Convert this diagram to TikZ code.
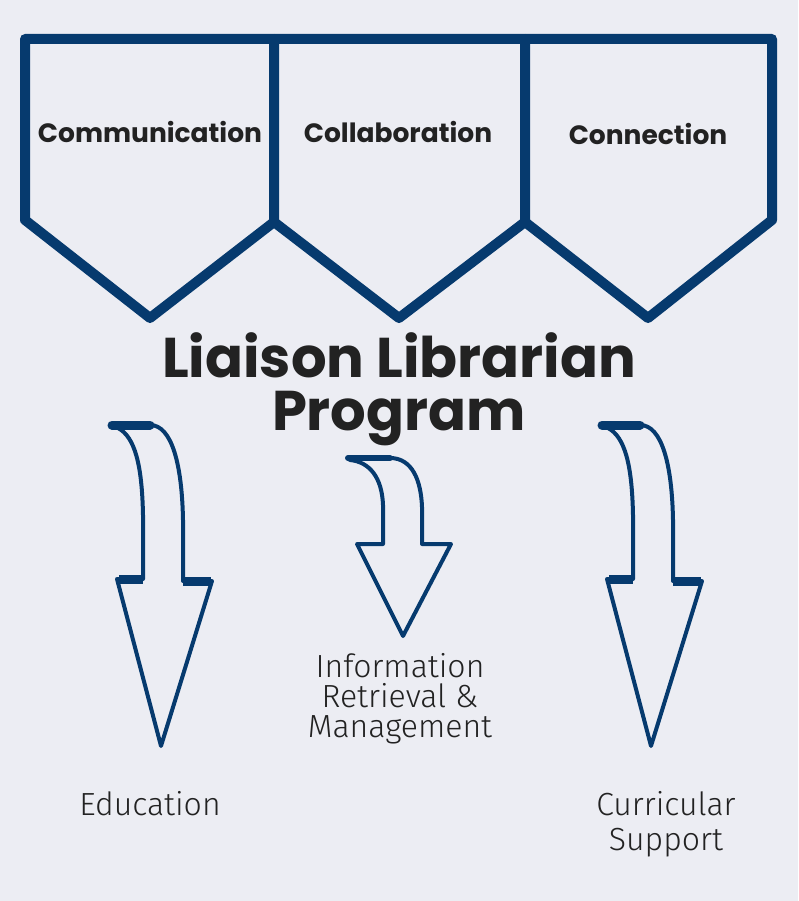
\documentclass[tikz,border=0pt]{standalone}
\usepackage{fontspec}
\setmainfont{Fira Sans Light}
\newfontfamily\headfont{Poppins}
\definecolor{navy}{HTML}{063A6E}
\definecolor{paper}{HTML}{ECEDF3}
\definecolor{ink}{HTML}{222222}
\begin{document}
\begin{tikzpicture}[x=1pt,y=-1pt,
    tab/.style={draw=navy,line width=10pt,line join=round},
    arrowline/.style={draw=navy,line width=4pt,line join=round},
    heavy/.style={draw=navy,line width=9pt,line cap=round},
    tabtext/.style={text=ink,anchor=base,font=\headfont\bfseries\fontsize{26.5}{30}\selectfont},
    title/.style={text=ink,align=center,anchor=base,font=\headfont\bfseries\fontsize{56}{53}\selectfont},
    label/.style={text=ink,align=center,anchor=base,font=\fontsize{32}{30}\selectfont}]
  \fill[paper] (0,0) rectangle (798,901);
  \useasboundingbox (0,0) rectangle (798,901);
  % the three tabs
  \draw[tab] (25,39) -- (274,39) -- (274,222) -- (150,318) -- (25,220) -- cycle;
  \draw[tab] (274,39) -- (525,39) -- (525,222) -- (399,318) -- (274,222);
  \draw[tab] (525,39) -- (772,39) -- (772,220) -- (648,318) -- (525,222);
  \node[tabtext] (comm) at (150,143) {Communication};
  \node[tabtext] (coll) at (398,143) {Collaboration};
  \node[tabtext] (conn) at (648,145) {Connection};
  % program title (base = last line)
  \node[title] (prog) at (399,430) {Liaison Librarian\\Program};
  % left and right arrows
  \foreach \dx in {0,490} {
    \begin{scope}[xshift=\dx]
      \draw[arrowline] (112,425) -- (150,425) .. controls (172,425) and (182,465) .. (183,520)
        -- (183,581) -- (212,581) -- (161,746) -- (117,579) -- (143,579) -- (143,515)
        .. controls (142,465) and (135,437) .. (118,428) -- cycle;
      \draw[heavy] (112,425) -- (150,425);
      \draw[heavy,line cap=butt] (183,581) -- (211,581);
      \draw[heavy,line cap=butt] (119,579) -- (143,579);
    \end{scope}
  }
  % middle arrow
  \draw[arrowline] (348,458) -- (390,458) .. controls (412,458) and (421,480) .. (422,507)
    -- (422,544) -- (451,544) -- (403,636) -- (357,544) -- (383,544) -- (383,505)
    .. controls (382,478) and (370,462) .. (350,460) -- cycle;
  \draw[heavy,line width=6pt] (348,458) -- (390,458);
  % outcomes
  \node[label] (info) at (400,737) {Information\\Retrieval \&\\Management};
  \node[label] (edu) at (150,815) {Education};
  \node[label] (curr) at (666,850) {Curricular\\[5pt]Support};
\end{tikzpicture}
\end{document}
